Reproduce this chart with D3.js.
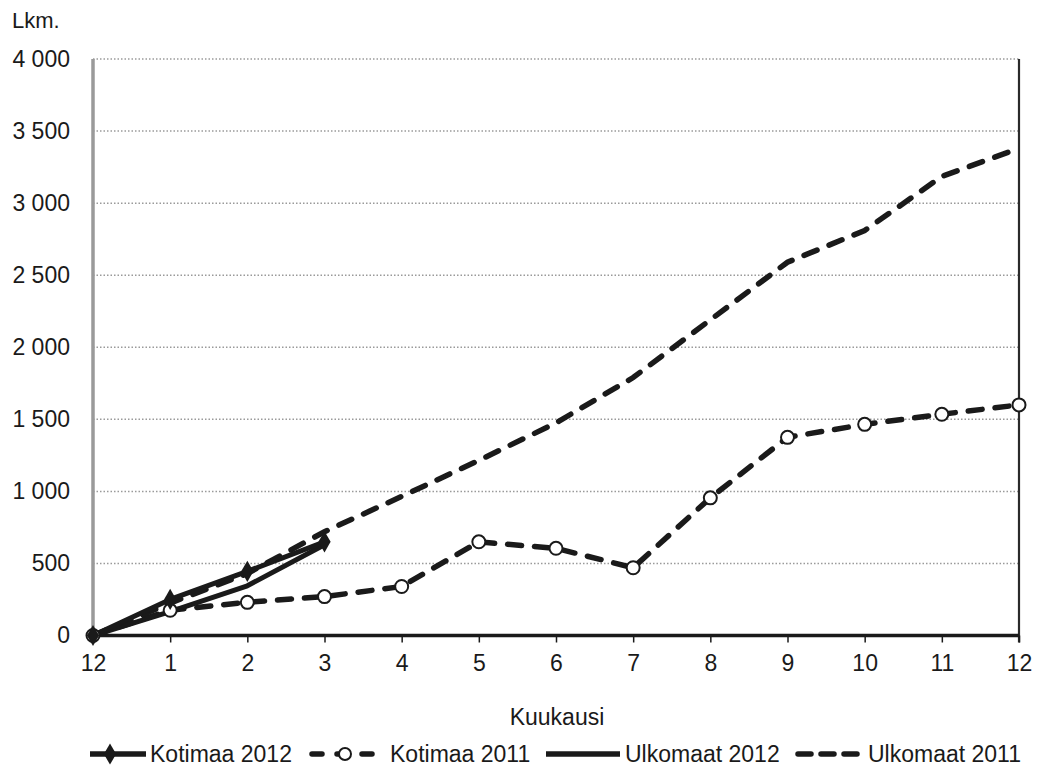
<!DOCTYPE html>
<html>
<head>
<meta charset="utf-8">
<script src="https://cdn.jsdelivr.net/npm/d3@7"></script>
<style>
html,body{margin:0;padding:0;background:#fff;}
text{font-family:"Liberation Sans",Arial,sans-serif;fill:#1a1a1a;}
</style>
</head>
<body>
<svg id="chart" width="1043" height="769"></svg>
<script>
const months = ["12","1","2","3","4","5","6","7","8","9","10","11","12"];
const yTicks = [0,500,1000,1500,2000,2500,3000,3500,4000];
const kotimaa2012 = [0, 250, 445, 650];
const kotimaa2011 = [0, 175, 230, 270, 340, 650, 605, 470, 955, 1375, 1465, 1535, 1600];
const ulkomaat2012 = [0, 165, 345, 630];
const ulkomaat2011 = [0, 225, 430, 720, 965, 1215, 1475, 1790, 2190, 2590, 2810, 3185, 3380];
const seriesNames = ["Kotimaa 2012","Kotimaa 2011","Ulkomaat 2012","Ulkomaat 2011"];

const svg = d3.select("#chart");
const L = 93, R = 1019, T = 59, B = 635.5;
const x = d3.scaleLinear().domain([0, months.length-1]).range([L, R]);
const y = d3.scaleLinear().domain([0, 4000]).range([B, T]);
const ink = "#1a1a1a";

// gridlines
svg.append("g").selectAll("line").data(yTicks.filter(d=>d>0)).join("line")
  .attr("x1", L).attr("x2", R).attr("y1", d=>y(d)).attr("y2", d=>y(d))
  .attr("stroke", "#9a9a9a").attr("stroke-width", 1.5).attr("stroke-dasharray", "1.5,2");

// y axis (gray)
svg.append("line").attr("x1", L).attr("x2", L).attr("y1", T).attr("y2", B)
  .attr("stroke", "#9a9a9a").attr("stroke-width", 3.5);
// right border
svg.append("line").attr("x1", R).attr("x2", R).attr("y1", T).attr("y2", B+7)
  .attr("stroke", "#2a2a2a").attr("stroke-width", 2.2);

// x axis
const xAxis = d3.axisBottom(x).tickValues(d3.range(months.length)).tickFormat(i=>months[i]).tickSize(7).tickPadding(12);
const gx = svg.append("g").attr("transform", `translate(0,${B})`).call(xAxis);
gx.select(".domain").remove();
gx.selectAll(".tick line").attr("stroke", ink).attr("stroke-width", 1.5);
gx.selectAll(".tick text").attr("font-size", 23).attr("fill", ink).style("font-family","Liberation Sans, Arial, sans-serif");
svg.append("line").attr("x1", L).attr("x2", R).attr("y1", B).attr("y2", B)
  .attr("stroke", ink).attr("stroke-width", 3.5);

// y axis labels
const fmt = d => d3.format(",")(d).replace(/,/g, " ");
const yAxis = d3.axisLeft(y).tickValues(yTicks).tickFormat(fmt).tickSize(0).tickPadding(23);
const gy = svg.append("g").attr("transform", `translate(${L},0)`).call(yAxis);
gy.select(".domain").remove();
gy.selectAll(".tick text").attr("font-size", 23).attr("fill", ink).style("font-family","Liberation Sans, Arial, sans-serif");

// titles
svg.append("text").attr("x", 12).attr("y", 28).attr("font-size", 22).text("Lkm.");
svg.append("text").attr("x", 557).attr("y", 725).attr("text-anchor","middle").attr("font-size", 23).text("Kuukausi");

const line = d3.line().x((d,i)=>x(i)).y(d=>y(d));
const dash = "14,13";

// Kotimaa 2011
svg.append("path").datum(kotimaa2011).attr("d", line).attr("fill","none")
  .attr("stroke", ink).attr("stroke-width", 5.5).attr("stroke-dasharray", dash).attr("stroke-linecap","round");
// Ulkomaat 2011
svg.append("path").datum(ulkomaat2011).attr("d", line).attr("fill","none")
  .attr("stroke", ink).attr("stroke-width", 5.5).attr("stroke-dasharray", dash).attr("stroke-linecap","round");
// Ulkomaat 2012
svg.append("path").datum(ulkomaat2012).attr("d", line).attr("fill","none")
  .attr("stroke", ink).attr("stroke-width", 5).attr("stroke-linejoin","round");
// Kotimaa 2012
svg.append("path").datum(kotimaa2012).attr("d", line).attr("fill","none")
  .attr("stroke", ink).attr("stroke-width", 5).attr("stroke-linejoin","round");

// markers
svg.append("g").selectAll("circle").data(kotimaa2011).join("circle")
  .attr("cx", (d,i)=>x(i)).attr("cy", d=>y(d)).attr("r", 6.5)
  .attr("fill", "#fff").attr("stroke", ink).attr("stroke-width", 2);
const diamond = d3.symbol().type(d3.symbolDiamond).size(130);
svg.append("g").selectAll("path").data(kotimaa2012).join("path")
  .attr("d", diamond).attr("transform", (d,i)=>`translate(${x(i)},${y(d)})`)
  .attr("fill", ink);

// legend
const ly = 754;
const lg = svg.append("g");
function legLine(x1, x2, dashed){
  lg.append("line").attr("x1",x1).attr("x2",x2).attr("y1",ly).attr("y2",ly)
    .attr("stroke", ink).attr("stroke-width", 5.5)
    .attr("stroke-dasharray", dashed ? dashed : null)
    .attr("stroke-linecap", dashed ? "round" : null);
}
const legItems = [
  {name: seriesNames[0], x1: 90, x2: 146, tx: 150},
  {name: seriesNames[1], x1: 312, x2: 372, tx: 390},
  {name: seriesNames[2], x1: 546, x2: 620, tx: 625},
  {name: seriesNames[3], x1: 798, x2: 858, tx: 868}
];
legLine(legItems[0].x1, legItems[0].x2);
lg.append("path").attr("d", diamond).attr("transform", `translate(${(legItems[0].x1+legItems[0].x2)/2-8},${ly})`).attr("fill", ink);
legLine(legItems[1].x1, legItems[1].x2, "10,15");
lg.append("circle").attr("cx", 345).attr("cy", ly).attr("r", 6).attr("fill","#fff").attr("stroke",ink).attr("stroke-width",2);
legLine(legItems[2].x1, legItems[2].x2);
legLine(legItems[3].x1, legItems[3].x2, "13,10");
legItems.forEach(it=>{
  lg.append("text").attr("x", it.tx).attr("y", ly+8).attr("font-size", 23).text(it.name);
});
</script>
</body>
</html>
